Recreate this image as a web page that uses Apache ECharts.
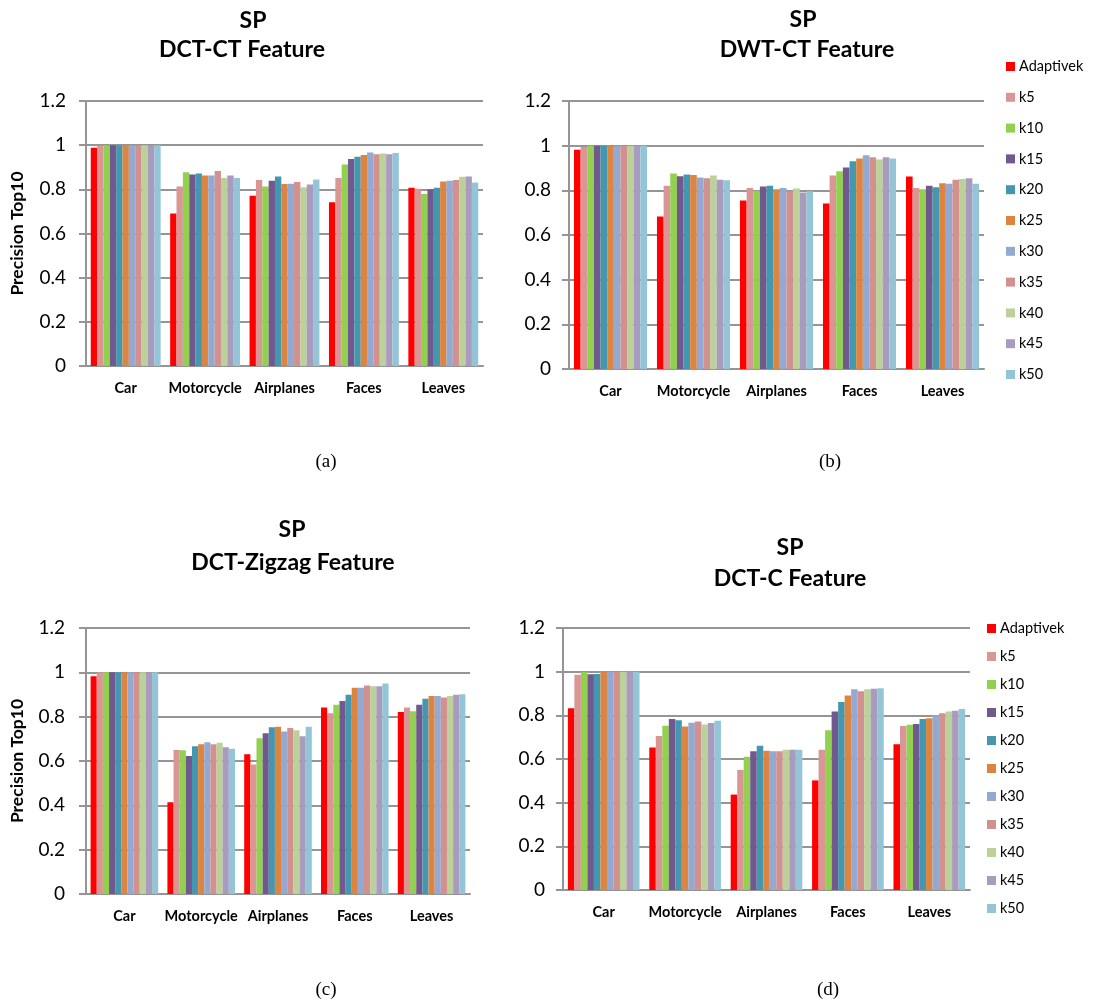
<!DOCTYPE html>
<html>
<head>
<meta charset="utf-8">
<script src="https://cdn.jsdelivr.net/npm/echarts@6/dist/echarts.min.js"></script>
<style>
  html, body { margin: 0; padding: 0; background: #fff; }
  #chart { width: 1096px; height: 1004px; }
</style>
</head>
<body>
<div id="chart"></div>
<script>
// Image classes on the x axis
const categories = ['Car', 'Motorcycle', 'Airplanes', 'Faces', 'Leaves'];

// Neighbourhood settings compared in every panel
const seriesNames = ['Adaptivek', 'k5', 'k10', 'k15', 'k20', 'k25', 'k30', 'k35', 'k40', 'k45', 'k50'];
const seriesColors = ['#FF0000', '#D99694', '#92D050', '#71588F', '#4398AF', '#DD8540',
                      '#93A9D1', '#D2918F', '#BCD09A', '#A99BBD', '#93C5D7'];

// Y axis ticks
const yTicks = [0, 0.2, 0.4, 0.6, 0.8, 1, 1.2];

// Precision Top10, one row per setting (Car, Motorcycle, Airplanes, Faces, Leaves)
const dctCtValues = [
  [0.988, 0.691, 0.771, 0.741, 0.807],
  [0.998, 0.813, 0.842, 0.851, 0.803],
  [1.000, 0.877, 0.813, 0.913, 0.779],
  [1.000, 0.867, 0.839, 0.937, 0.800],
  [1.000, 0.872, 0.858, 0.947, 0.807],
  [1.000, 0.863, 0.824, 0.956, 0.836],
  [1.000, 0.863, 0.825, 0.967, 0.839],
  [1.000, 0.883, 0.833, 0.959, 0.842],
  [1.000, 0.851, 0.809, 0.962, 0.857],
  [1.000, 0.863, 0.822, 0.959, 0.858],
  [1.000, 0.851, 0.845, 0.964, 0.831]
];

const dwtCtValues = [
  [0.982, 0.683, 0.754, 0.741, 0.862],
  [0.994, 0.821, 0.810, 0.866, 0.810],
  [1.000, 0.875, 0.798, 0.885, 0.805],
  [1.000, 0.863, 0.817, 0.902, 0.821],
  [1.000, 0.871, 0.821, 0.930, 0.814],
  [1.000, 0.869, 0.805, 0.943, 0.832],
  [1.000, 0.857, 0.811, 0.957, 0.830],
  [1.000, 0.854, 0.796, 0.948, 0.847],
  [1.000, 0.866, 0.808, 0.938, 0.851],
  [1.000, 0.847, 0.790, 0.948, 0.854],
  [1.000, 0.845, 0.796, 0.942, 0.830]
];

const dctZigzagValues = [
  [0.982, 0.414, 0.631, 0.841, 0.821],
  [1.000, 0.650, 0.584, 0.815, 0.841],
  [1.000, 0.649, 0.703, 0.854, 0.824],
  [1.000, 0.622, 0.725, 0.871, 0.854],
  [1.000, 0.667, 0.752, 0.899, 0.881],
  [1.000, 0.676, 0.755, 0.931, 0.893],
  [1.000, 0.685, 0.733, 0.931, 0.893],
  [1.000, 0.676, 0.749, 0.941, 0.887],
  [1.000, 0.682, 0.739, 0.937, 0.893],
  [1.000, 0.662, 0.712, 0.937, 0.899],
  [1.000, 0.655, 0.754, 0.950, 0.901]
];

const dctCValues = [
  [0.833, 0.653, 0.437, 0.502, 0.668],
  [0.986, 0.705, 0.550, 0.642, 0.751],
  [0.998, 0.752, 0.610, 0.732, 0.757],
  [0.988, 0.783, 0.636, 0.818, 0.760],
  [0.989, 0.778, 0.661, 0.861, 0.783],
  [1.000, 0.749, 0.638, 0.891, 0.787],
  [1.000, 0.766, 0.636, 0.920, 0.800],
  [1.000, 0.772, 0.636, 0.910, 0.809],
  [1.000, 0.758, 0.642, 0.919, 0.817],
  [1.000, 0.765, 0.642, 0.922, 0.821],
  [1.000, 0.775, 0.642, 0.924, 0.829]
];

const panelTitles = [
  ['SP', 'DCT-CT Feature'],
  ['SP', 'DWT-CT Feature'],
  ['SP', 'DCT-Zigzag Feature'],
  ['SP', 'DCT-C Feature']
];
const panelCaptions = ['(a)', '(b)', '(c)', '(d)'];

// ---- layout ----
const SANS = 'Lato, "Open Sans", sans-serif';
const GRID_GREY = '#959595';

const panels = [
  { values: dctCtValues,     grid: { left: 86,  top: 101, width: 397, height: 265 },
    titleX: [253, 242], titleY: [21, 50],   captionX: 326, captionY: 462, yName: 'Precision Top10', labelMargin: 20 },
  { values: dwtCtValues,     grid: { left: 569, top: 101, width: 415, height: 268 },
    titleX: [803, 807], titleY: [20, 50],   captionX: 830, captionY: 462, yName: '',                labelMargin: 18 },
  { values: dctZigzagValues, grid: { left: 86,  top: 628, width: 384, height: 266 },
    titleX: [292, 293], titleY: [530, 563], captionX: 326, captionY: 990, yName: 'Precision Top10', labelMargin: 21 },
  { values: dctCValues,      grid: { left: 563, top: 628, width: 407, height: 262 },
    titleX: [790, 790], titleY: [548, 579], captionX: 828, captionY: 990, yName: '',                labelMargin: 18 }
];

const grids = [], xAxes = [], yAxes = [], series = [], graphics = [];

panels.forEach((p, idx) => {
  grids.push(Object.assign({ containLabel: false }, p.grid));

  xAxes.push({
    type: 'category',
    gridIndex: idx,
    data: categories,
    axisTick: { show: false },
    axisLine: { show: true, lineStyle: { color: GRID_GREY, width: 2 } },
    axisLabel: { color: '#000', fontFamily: SANS, fontWeight: 'bold', fontSize: 14.5, margin: 15, interval: 0 }
  });

  yAxes.push({
    type: 'value',
    gridIndex: idx,
    min: yTicks[0],
    max: yTicks[yTicks.length - 1],
    interval: 0.2,
    name: p.yName,
    nameLocation: 'middle',
    nameGap: 60,
    nameTextStyle: { color: '#000', fontFamily: SANS, fontWeight: 'bold', fontSize: 17.5 },
    axisLine: { show: true, lineStyle: { color: GRID_GREY, width: 2 } },
    axisTick: { show: true, length: 7, lineStyle: { color: GRID_GREY, width: 2 } },
    splitLine: { show: true, lineStyle: { color: GRID_GREY, width: 2 } },
    axisLabel: {
      color: '#000', fontFamily: SANS, fontSize: 19, margin: p.labelMargin,
      formatter: v => String(+v.toFixed(1))
    }
  });

  seriesNames.forEach((name, i) => {
    series.push({
      type: 'bar',
      name: name,
      xAxisIndex: idx,
      yAxisIndex: idx,
      data: p.values[i],
      barGap: '0%',
      barCategoryGap: '12%',
      itemStyle: { color: seriesColors[i] },
      emphasis: { disabled: true }
    });
  });

  p.titleY.forEach((y, k) => {
    graphics.push({
      type: 'text',
      x: p.titleX[k], y: y,
      style: {
        text: panelTitles[idx][k],
        fill: '#000',
        font: 'bold 23px ' + SANS,
        textAlign: 'center',
        textVerticalAlign: 'middle'
      }
    });
  });

  graphics.push({
    type: 'text',
    x: p.captionX, y: p.captionY,
    style: {
      text: panelCaptions[idx],
      fill: '#000',
      font: '19px "Liberation Serif", "DejaVu Serif", serif',
      textAlign: 'center',
      textVerticalAlign: 'middle'
    }
  });
});

const legendBase = {
  orient: 'vertical',
  icon: 'rect',
  itemWidth: 9,
  itemHeight: 9,
  padding: 0,
  selectedMode: false,
  data: seriesNames,
  textStyle: { color: '#000', fontFamily: SANS, fontSize: 14.5, lineHeight: 14, padding: [0, 0, 0, -1] }
};

const chart = echarts.init(document.getElementById('chart'), null, { renderer: 'canvas' });
chart.setOption({
  animation: false,
  backgroundColor: '#fff',
  grid: grids,
  xAxis: xAxes,
  yAxis: yAxes,
  legend: [
    Object.assign({}, legendBase, { left: 1006, top: 59, itemGap: 15.8 }),
    Object.assign({}, legendBase, { left: 987, top: 621, itemGap: 13 })
  ],
  series: series,
  graphic: graphics
});
</script>
</body>
</html>
